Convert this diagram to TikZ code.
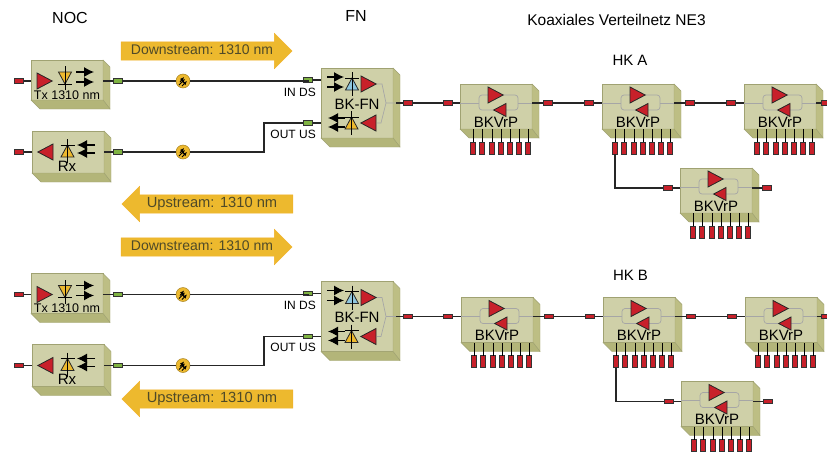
\documentclass[tikz,border=0pt]{standalone}
\usepackage{fontspec}
\setmainfont{Liberation Sans}
\usepackage{xcolor}
\usetikzlibrary{shapes.arrows,positioning,arrows.meta}
\definecolor{face}{HTML}{CFD0A8}
\definecolor{sidea}{HTML}{BDBE84}
\definecolor{sideb}{HTML}{B3B579}
\definecolor{edge}{HTML}{A0A272}
\definecolor{ampred}{HTML}{C8202A}
\definecolor{gold}{HTML}{EDB92E}
\definecolor{sky}{HTML}{8FC6DE}
\definecolor{plug}{HTML}{7FB342}
\definecolor{bannertext}{HTML}{4F4A28}
\tikzset{
    kasten/.style={draw=edge,fill=face,anchor=north west,inner sep=0,outer sep=0},
    seite/.style={draw=edge,fill=sidea,line width=0.4pt},
    boden/.style={draw=edge,fill=sideb,line width=0.4pt},
    redcon/.style={draw=black!80,fill=ampred,line width=0.9pt,minimum width=9.5pt,minimum height=4.5pt,inner sep=0,outer sep=0},
    greencon/.style={draw=black!80,fill=plug,line width=0.9pt,minimum width=9.5pt,minimum height=4.5pt,inner sep=0,outer sep=0},
    stub/.style={draw=black!80,fill=ampred,line width=0.9pt,minimum width=4.5pt,minimum height=12pt,inner sep=0,outer sep=0},
    amp/.style={draw=black!85,fill=ampred,line width=0.8pt,line join=miter},
    cable/.style={draw=black!85,line width=1.2pt},
    innen/.style={draw=black!35,line width=0.7pt},
    fibre/.style={circle,draw=gold!70!black,fill=gold,line width=0.5pt,minimum size=14pt,inner sep=0},
    banner/.style={single arrow,single arrow head extend=8.5pt,single arrow head indent=0pt,
        draw=gold!85!orange,fill=gold,text=bannertext,font=\fontsize{14}{14}\selectfont,
        text height=10pt,text depth=3pt,inner xsep=0pt,inner ysep=2.5pt,minimum height=171pt},
    txt/.style={inner sep=0,font=\fontsize{#1}{#1}\selectfont},
    txt/.default=15.5
}
% name, left, top, width, height
\newcommand{\kastenbox}[5]{
    \node[kasten,minimum width=#4pt,minimum height=#5pt] (#1) at (#2,#3) {};
    \fill[seite] (#1.north east) -- ++(7,7) -- ([shift={(7,9)}]#1.south east) -- (#1.south east) -- cycle;
    \fill[boden] (#1.south west) -- ++(9,9) -- ([shift={(7,9)}]#1.south east) -- (#1.south east) -- cycle;
}
\newcommand{\ampr}[3]{\draw[amp,shift={(#1,#2)}] (0,-#3) -- (#3*1.9,0) -- (0,#3) -- cycle;}
\newcommand{\ampl}[3]{\draw[amp,shift={(#1,#2)}] (0,-#3) -- (-#3*1.9,0) -- (0,#3) -- cycle;}
% diode, x, y of the bar and the direction (1 down, -1 up)
\newcommand{\diode}[4]{
    \draw[fill=#4,draw=black!85,line width=0.8pt,shift={(#1,#2)}] (-6.5,-12*#3) -- (6.5,-12*#3) -- (0,0) -- cycle;
    \draw[black,line width=0.8pt,shift={(#1,#2)}] (-7,0) -- (7,0) (0,6*#3) -- (0,-18*#3);
}
\newcommand{\photons}[4]{
    \draw[-{Latex[length=10pt,width=10pt]},line width=1.2pt] (#1,#3) -- (#2,#3);
    \draw[-{Latex[length=10pt,width=10pt]},line width=1.2pt] (#1,#4) -- (#2,#4);
}
\newcommand{\bkvrp}[3]{
    \begin{scope}[shift={(#2,#3)}]
        \draw[innen] (0,19) -- (19,19) (58,19) -- (72,19);
        \draw[innen,rounded corners=3pt] (19,11) rectangle (58,26);
        \ampr{28}{11}{8}
        \ampl{46}{26}{6.5}
        \node[txt=15] at (36,38) {BKVrP};
    \end{scope}
}
\newcommand{\fibresym}[3]{
    \node[fibre] (#1) at (#2,#3) {};
    \draw[-{Latex[length=4pt,width=4pt]},line width=0.9pt] ([shift={(-4,4)}]#1.center) -- ([shift={(2,-2)}]#1.center);
    \draw[-{Latex[length=4pt,width=4pt]},line width=0.9pt] ([shift={(-1,5)}]#1.center) -- ([shift={(4,0)}]#1.center);
    \draw[-{Latex[length=4pt,width=4pt]},line width=0.9pt] ([shift={(-3,1)}]#1.center) -- ([shift={(1,-4)}]#1.center);
}

\begin{document}
\begin{tikzpicture}[x=1pt,y=-1pt]
    \useasboundingbox (0,0) rectangle (827,453);

    \node[txt=16] (noc) at (70,18) {NOC};
    \node[txt=16] (fn) at (356,16) {FN};
    \node[txt] (koax) at (616.5,20) {Koaxiales Verteilnetz NE3};
    \node[txt=15] (hka) at (630,60) {HK A};
    \node[txt=15] (hkb) at (630.5,275) {HK B};

    \node[banner] (dsa) at (202,51) {Downstream: 1310 nm};
    \node[banner,shape border rotate=180,font=\fontsize{14.7}{14.7}\selectfont] (usa) at (212,204) {Upstream: 1310 nm\hspace{6pt}};
    \node[banner] (dsb) at (202,247) {Downstream: 1310 nm};
    \node[banner,shape border rotate=180,font=\fontsize{14.7}{14.7}\selectfont] (usb) at (212,399) {Upstream: 1310 nm\hspace{6pt}};

    \foreach \row/\dy/\dx in {a/0/0,b/213.5/1}{
    \begin{scope}[yshift=-\dy pt]
        % NOC
        \kastenbox{tx\row}{31}{60}{72}{40}
        \kastenbox{rx\row}{32}{131}{72}{42}
        \ampr{37}{81}{8}
        \diode{65}{84}{1}{gold}
        \photons{76}{94}{72}{82}
        \node[txt=12.5] at (67,95) {Tx 1310 nm};
        \ampl{53}{152}{8}
        \diode{67.5}{145}{-1}{gold}
        \photons{95}{77}{145}{153}
        \node[txt=15] at (67,166) {Rx};

        % FN
        \kastenbox{fn\row}{321}{68}{72}{70}
        \photons{327}{344}{77}{87}
        \diode{352}{78}{-1}{sky}
        \ampr{361}{84}{8}
        \photons{345}{328}{118}{127}
        \diode{351.5}{117}{-1}{gold}
        \ampl{376}{123}{8}
        \draw[innen] (377,84) -- (382,84) -- (386,103) -- (396,103) (386,103) -- (381,123) -- (377,123);
        \node[txt=15] at (357,104) {BK-FN};
        \node[txt=12,anchor=east] at (316,92) {IN DS};
        \node[txt=12,anchor=east] at (316,134) {OUT US};

        % Verstaerker
        \foreach \name/\x/\y in {one/460/84,two/602/84,three/744/84,four/680/168}{
            \pgfmathsetmacro{\xx}{\x+\dx}
            \kastenbox{\name\row}{\xx}{\y}{72}{45}
            \bkvrp{\name\row}{\xx}{\y}
            \foreach \i/\off in {1/13,2/22,3/32,4/41,5/50,6/59,7/68}{
                \node[stub] (\name\row\i) at (\xx+\off,\y+64) {};
                \draw[black,line width=0.8pt] (\name\row\i.north) -- (\name\row\i.north |- \name\row.south);
            }
        }

        % Leitungen
        \node[redcon] (txin\row) at (19,81) {};
        \node[greencon] (txout\row) at (118,81) {};
        \node[redcon] (rxin\row) at (19,152) {};
        \node[greencon] (rxout\row) at (118,152) {};
        \node[greencon] (inds\row) at (308,80) {};
        \node[greencon] (outus\row) at (308,123) {};
        \fibresym{fa\row}{183}{81}
        \fibresym{fb\row}{183}{152}
        \draw[cable] (txin\row) -- (tx\row.west |- txin\row);
        \draw[cable] (rxin\row) -- (rx\row.west |- rxin\row);
        \draw[cable] (tx\row.east |- txout\row) -- ++(7,0) -- (txout\row);
        \draw[cable] (rx\row.east |- rxout\row) -- ++(7,0) -- (rxout\row);
        \draw[cable] (txout\row) -- (fa\row) (fa\row) -- (fa\row -| inds\row) -- (inds\row) -- (fn\row.west |- inds\row);
        \draw[cable] (rxout\row) -- (fb\row) (fb\row) -- (264,152) -- (264,123) -- (outus\row) -- (fn\row.west |- outus\row);

        \node[redcon] (c1\row) at (408,103) {};
        \node[redcon] (c2\row) at (448,103) {};
        \node[redcon] (c3\row) at (548+\dx,103) {};
        \node[redcon] (c4\row) at (589+\dx,103) {};
        \node[redcon] (c5\row) at (690+\dx,103) {};
        \node[redcon] (c6\row) at (731+\dx,103) {};
        \node[redcon,minimum width=8pt] (c7\row) at (825,103) {};
        \node[redcon] (c8\row) at (668+\dx,188) {};
        \node[redcon] (c9\row) at (767+\dx,188) {};
        \draw[cable] (396,103) -- (c1\row) -- (c2\row) -- (one\row.west |- c2\row);
        \draw[cable] (one\row.east |- c3\row) -- (c3\row) -- (c4\row) -- (two\row.west |- c4\row);
        \draw[cable] (two\row.east |- c5\row) -- (c5\row) -- (c6\row) -- (three\row.west |- c6\row);
        \draw[cable] (three\row.east |- c7\row) -- (c7\row);
        \draw[cable] (two\row1.south) |- (c8\row) -- (four\row.west |- c8\row);
        \draw[cable] (four\row.east |- c9\row) -- (c9\row);
    \end{scope}
    }
\end{tikzpicture}
\end{document}
